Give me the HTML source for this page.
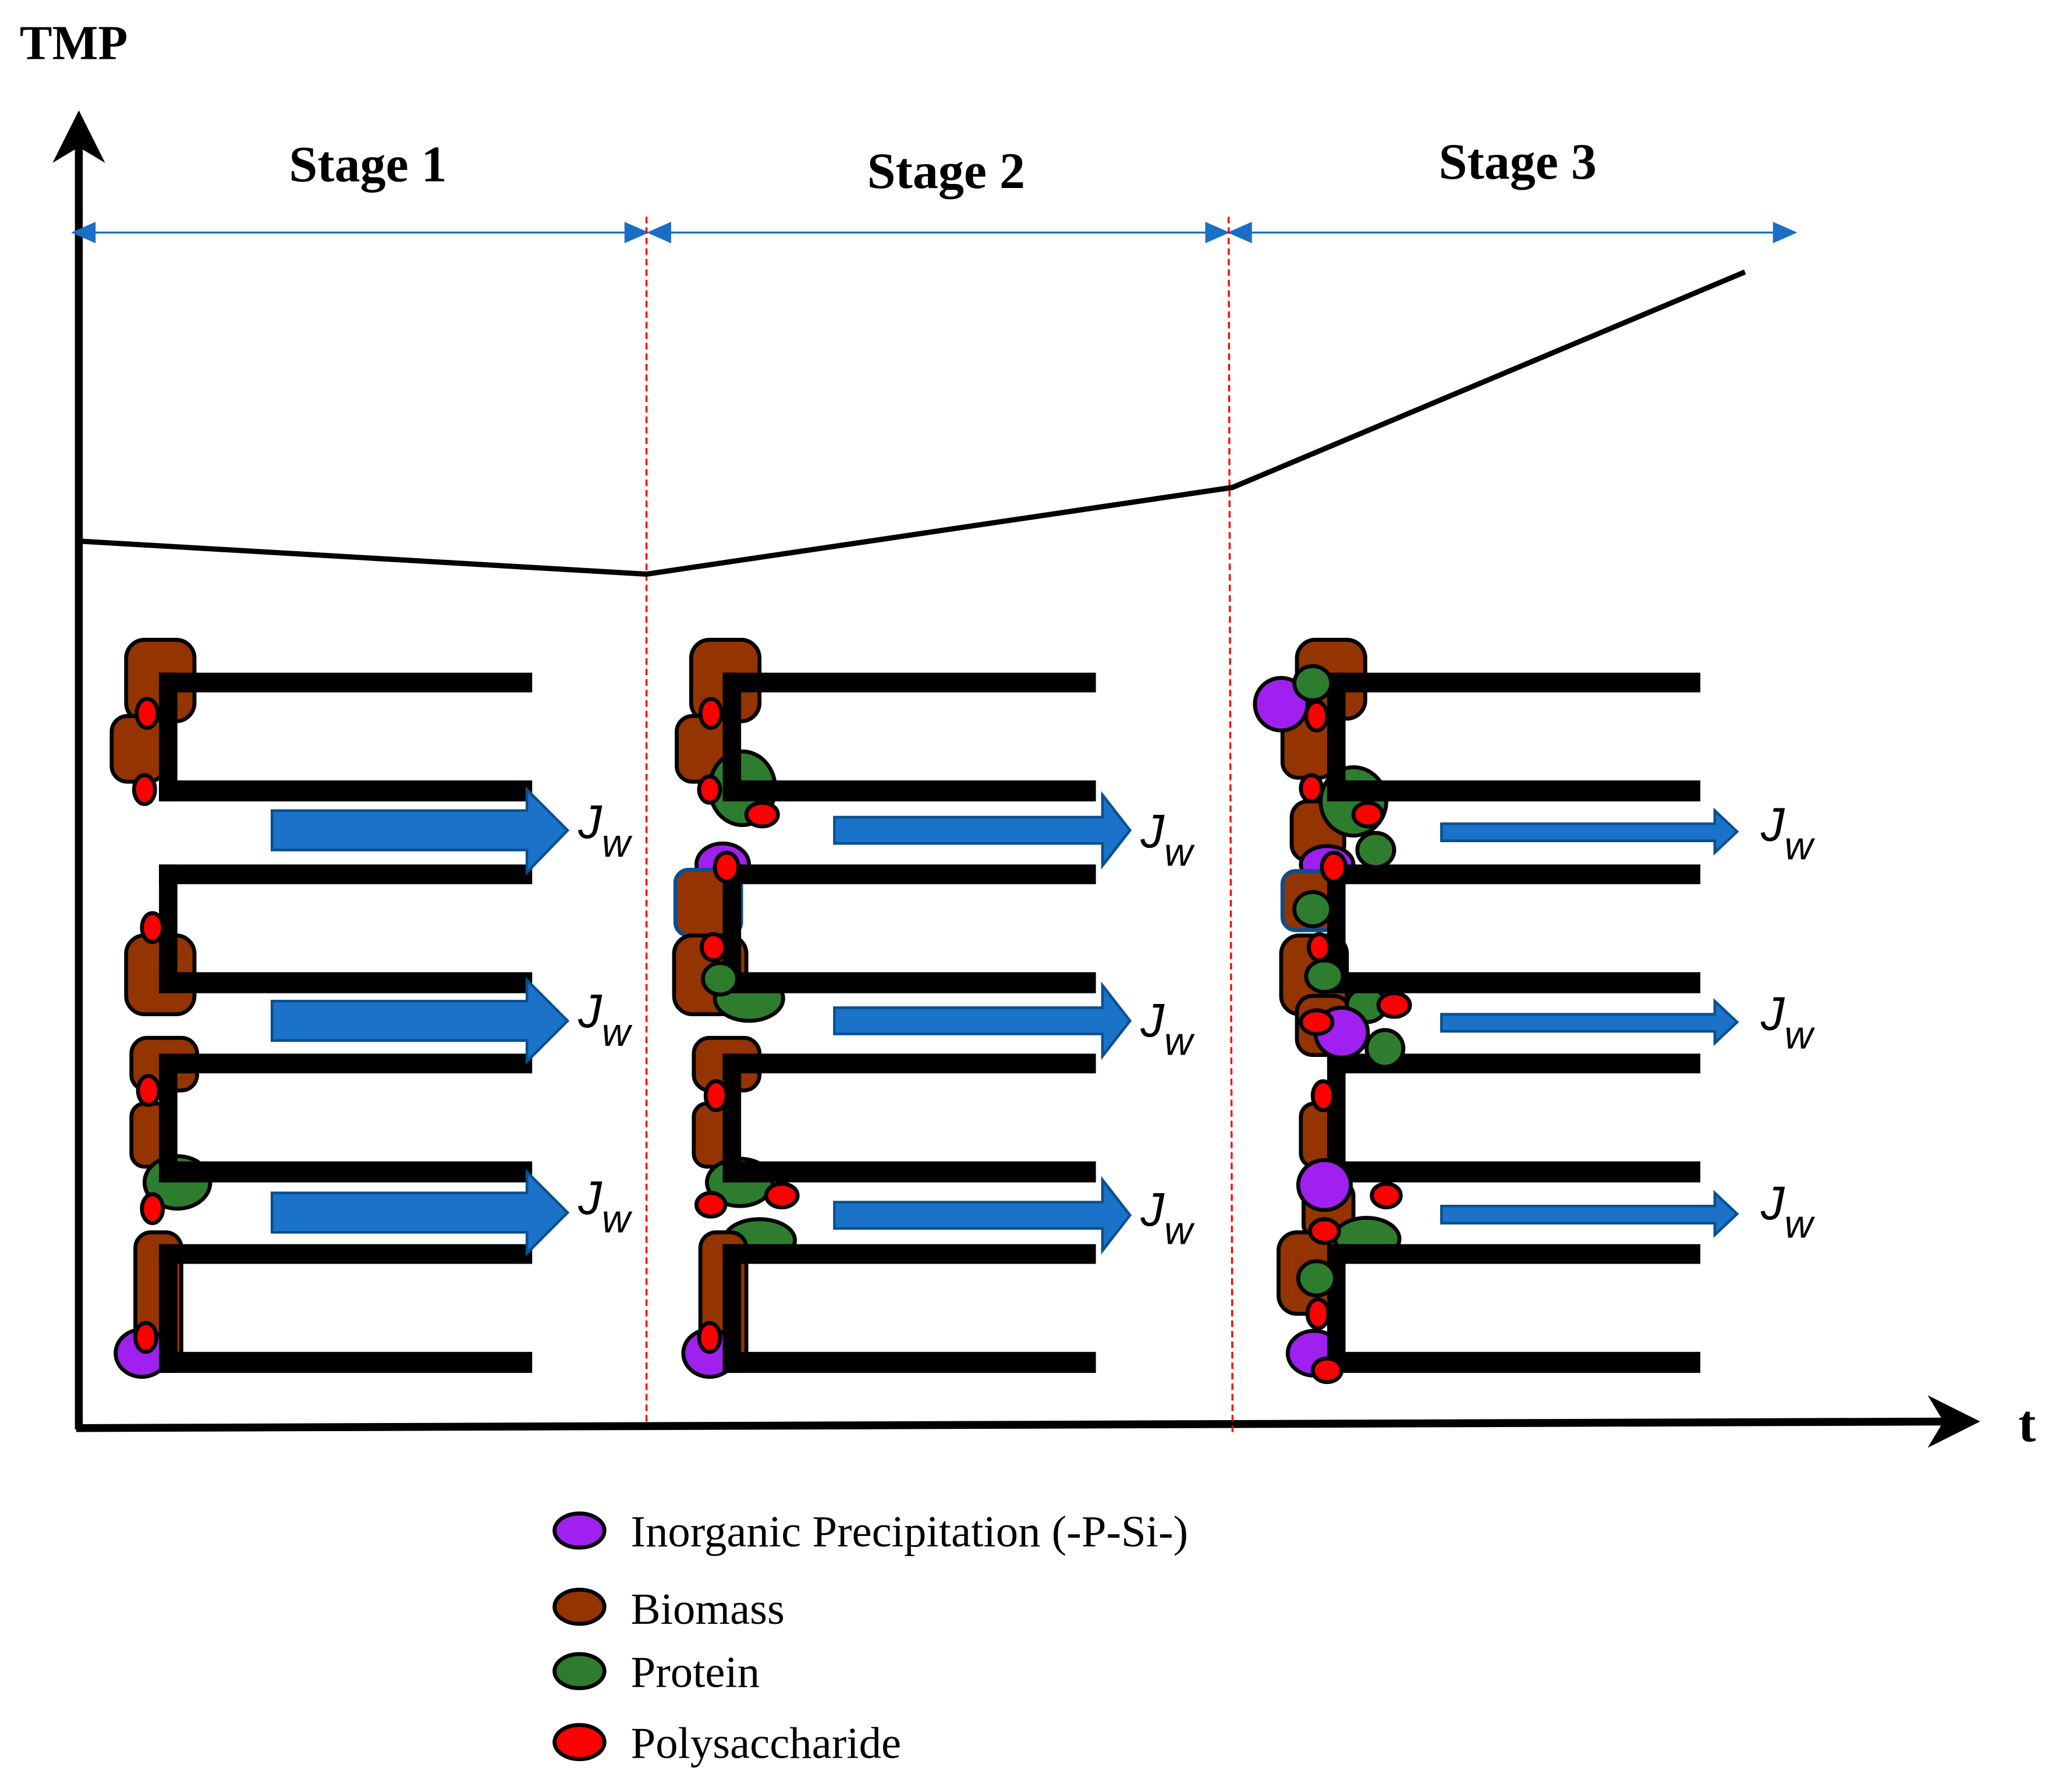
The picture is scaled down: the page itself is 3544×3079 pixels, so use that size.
<!DOCTYPE html>
<html><head><meta charset="utf-8"><style>html,body{margin:0;padding:0;background:#fff}svg{display:block}</style></head>
<body>
<svg width="3544" height="3079" viewBox="0 0 1570 1364" xmlns="http://www.w3.org/2000/svg">
<defs>
<g id="mem1"><rect x="0" y="0" width="284" height="15"/><rect x="0" y="0" width="14" height="98"/><rect x="0" y="82" width="284" height="16"/></g>
<g id="mem3"><use href="#mem1" y="0"/><use href="#mem1" y="146"/><use href="#mem1" y="290"/><use href="#mem1" y="435"/></g>
</defs>
<rect width="1570" height="1364" fill="#fff"/>
<text x="15" y="45" font-family="Liberation Serif, serif" font-weight="bold" font-size="37">TMP</text>
<text x="1536" y="1097" font-family="Liberation Serif, serif" font-weight="bold" font-size="40">t</text>
<!-- axes -->
<line x1="60" y1="100" x2="60" y2="1088" stroke="#000" stroke-width="6"/>
<polygon points="60,84 40,124 60,112 80,124" fill="#000"/>
<line x1="58" y1="1087" x2="1490" y2="1082" stroke="#000" stroke-width="6"/>
<polygon points="1507,1082 1467,1062 1479,1082 1467,1102" fill="#000"/>
<text x="280" y="138" text-anchor="middle" font-family="Liberation Serif, serif" font-weight="bold" font-size="39">Stage 1</text>
<text x="720" y="143" text-anchor="middle" font-family="Liberation Serif, serif" font-weight="bold" font-size="39">Stage 2</text>
<text x="1155" y="136" text-anchor="middle" font-family="Liberation Serif, serif" font-weight="bold" font-size="39">Stage 3</text>
<!-- stage double arrows -->
<g stroke="#1a6fc4" stroke-width="1.5" fill="#1a6fc4">
<line x1="62" y1="177" x2="488" y2="177"/><polygon points="56,177 72,170 72,184"/><polygon points="492,177 476,170 476,184"/>
<line x1="499" y1="177" x2="929" y2="177"/><polygon points="494,177 510,170 510,184"/><polygon points="934,177 918,170 918,184"/>
<line x1="941" y1="177" x2="1361" y2="177"/><polygon points="936,177 952,170 952,184"/><polygon points="1366,177 1350,170 1350,184"/>
</g>
<g stroke="#ff0000" stroke-width="1.5" stroke-dasharray="5,3">
<line x1="492" y1="165" x2="492" y2="1085"/><line x1="935" y1="165" x2="938" y2="1090"/>
</g>
<polyline points="62,412 492,437 938,371 1328,207" fill="none" stroke="#000" stroke-width="4"/>

<!-- ===== Stage 1 blobs ===== -->
<g stroke="#000" stroke-width="3">
<rect x="96" y="487" width="52" height="62" rx="14" fill="#943400"/>
<rect x="85" y="545" width="40" height="50" rx="12" fill="#943400"/>
<rect x="96" y="712" width="52" height="60" rx="14" fill="#943400"/>
<rect x="100" y="790" width="50" height="40" rx="12" fill="#943400"/>
<rect x="100" y="840" width="30" height="48" rx="10" fill="#943400"/>
<ellipse cx="135" cy="900" rx="25" ry="20" fill="#2e7d2e"/>
<rect x="103" y="938" width="35" height="105" rx="12" fill="#943400"/>
<ellipse cx="108" cy="1030" rx="20" ry="18" fill="#a020f0"/>
</g>
<use href="#mem3" x="121" y="512" fill="#000"/>
<g stroke="#000" stroke-width="3" fill="#ff0000">
<ellipse cx="112" cy="543" rx="8" ry="11"/><ellipse cx="110" cy="601" rx="8" ry="11"/>
<ellipse cx="116" cy="706" rx="8" ry="11"/><ellipse cx="113" cy="830" rx="8" ry="11"/>
<ellipse cx="116" cy="920" rx="8" ry="11"/><ellipse cx="111" cy="1018" rx="8" ry="11"/>
</g>

<!-- ===== Stage 2 blobs ===== -->
<g stroke="#000" stroke-width="3">
<rect x="526" y="487" width="52" height="62" rx="14" fill="#943400"/>
<rect x="515" y="545" width="40" height="50" rx="12" fill="#943400"/>
<ellipse cx="565" cy="600" rx="25" ry="28" fill="#2e7d2e"/>
<ellipse cx="550" cy="658" rx="20" ry="16" fill="#a020f0"/>
<rect x="514" y="662" width="50" height="50" rx="10" fill="#943400" stroke="#0a4f8f"/>
<rect x="513" y="712" width="55" height="60" rx="14" fill="#943400"/>
<ellipse cx="570" cy="760" rx="26" ry="17" fill="#2e7d2e"/>
<rect x="528" y="790" width="50" height="40" rx="12" fill="#943400"/>
<rect x="528" y="840" width="30" height="48" rx="10" fill="#943400"/>
<ellipse cx="563" cy="900" rx="25" ry="18" fill="#2e7d2e"/>
<ellipse cx="578" cy="944" rx="27" ry="16" fill="#2e7d2e"/>
<rect x="533" y="938" width="35" height="105" rx="12" fill="#943400"/>
<ellipse cx="540" cy="1030" rx="20" ry="18" fill="#a020f0"/>
</g>
<use href="#mem3" x="550" y="512" fill="#000"/>
<g stroke="#000" stroke-width="3">
<ellipse cx="548" cy="745" rx="13" ry="12" fill="#2e7d2e"/>
</g>
<g stroke="#000" stroke-width="3" fill="#ff0000">
<ellipse cx="541" cy="543" rx="8" ry="11"/><ellipse cx="540" cy="601" rx="8" ry="10"/>
<ellipse cx="580" cy="620" rx="12" ry="9"/><ellipse cx="553" cy="660" rx="9" ry="11"/>
<ellipse cx="543" cy="721" rx="9" ry="10"/><ellipse cx="545" cy="834" rx="8" ry="11"/>
<ellipse cx="541" cy="917" rx="11" ry="9"/><ellipse cx="595" cy="910" rx="12" ry="9"/>
<ellipse cx="540" cy="1018" rx="8" ry="11"/>
</g>

<!-- ===== Stage 3 blobs ===== -->
<g stroke="#000" stroke-width="3">
<rect x="987" y="487" width="52" height="60" rx="14" fill="#943400"/>
<rect x="976" y="540" width="40" height="52" rx="12" fill="#943400"/>
<rect x="983" y="610" width="40" height="45" rx="12" fill="#943400"/>
<ellipse cx="1030" cy="610" rx="25" ry="26" fill="#2e7d2e"/>
<ellipse cx="1010" cy="658" rx="20" ry="14" fill="#a020f0"/>
<rect x="976" y="663" width="45" height="45" rx="10" fill="#943400" stroke="#0a4f8f"/>
<rect x="975" y="712" width="50" height="60" rx="14" fill="#943400"/>
<rect x="987" y="758" width="40" height="45" rx="12" fill="#943400"/>
<ellipse cx="1040" cy="765" rx="15" ry="13" fill="#2e7d2e"/>
<rect x="990" y="840" width="30" height="48" rx="10" fill="#943400"/>
<rect x="992" y="900" width="38" height="42" rx="10" fill="#943400"/>
<ellipse cx="1040" cy="943" rx="25" ry="16" fill="#2e7d2e"/>
<rect x="973" y="938" width="45" height="62" rx="14" fill="#943400"/>
<ellipse cx="1000" cy="1030" rx="20" ry="17" fill="#a020f0"/>
<ellipse cx="975" cy="536" rx="20" ry="20" fill="#a020f0"/>
</g>
<use href="#mem3" x="1010" y="512" fill="#000"/>
<g stroke="#000" stroke-width="3">
<ellipse cx="999" cy="520" rx="14" ry="13" fill="#2e7d2e"/>
<ellipse cx="1047" cy="647" rx="14" ry="13" fill="#2e7d2e"/>
<ellipse cx="999" cy="692" rx="14" ry="13" fill="#2e7d2e"/>
<ellipse cx="1008" cy="743" rx="14" ry="12" fill="#2e7d2e"/>
<ellipse cx="1021" cy="786" rx="20" ry="19" fill="#a020f0"/>
<ellipse cx="1054" cy="798" rx="14" ry="14" fill="#2e7d2e"/>
<ellipse cx="1008" cy="902" rx="20" ry="19" fill="#a020f0"/>
<ellipse cx="1002" cy="973" rx="14" ry="13" fill="#2e7d2e"/>
</g>
<g stroke="#000" stroke-width="3" fill="#ff0000">
<ellipse cx="1002" cy="545" rx="8" ry="11"/><ellipse cx="998" cy="600" rx="8" ry="10"/>
<ellipse cx="1041" cy="620" rx="11" ry="9"/><ellipse cx="1015" cy="660" rx="9" ry="11"/>
<ellipse cx="1004" cy="721" rx="8" ry="10"/><ellipse cx="1061" cy="765" rx="12" ry="9"/>
<ellipse cx="1002" cy="778" rx="12" ry="9"/><ellipse cx="1007" cy="834" rx="8" ry="11"/>
<ellipse cx="1055" cy="910" rx="11" ry="9"/><ellipse cx="1008" cy="937" rx="11" ry="9"/>
<ellipse cx="1003" cy="1000" rx="8" ry="11"/><ellipse cx="1010" cy="1043" rx="11" ry="9"/>
</g>

<!-- flux arrows -->
<g fill="#1a73c8" stroke="#0a4f8f" stroke-width="2">
<polygon points="207,617 401,617 401,601 432,632 401,664 401,647 207,647"/>
<polygon points="207,762 401,762 401,746 432,777 401,808 401,792 207,792"/>
<polygon points="207,908 401,908 401,892 432,923 401,954 401,938 207,938"/>
<polygon points="635,622 839,622 839,605 860,632 839,659 839,642 635,642"/>
<polygon points="635,767 839,767 839,750 860,777 839,804 839,787 635,787"/>
<polygon points="635,915 839,915 839,898 860,925 839,952 839,935 635,935"/>
<polygon points="1097,627 1305,627 1305,617 1322,633 1305,649 1305,640 1097,640"/>
<polygon points="1097,772 1305,772 1305,762 1322,778 1305,794 1305,785 1097,785"/>
<polygon points="1097,918 1305,918 1305,908 1322,924 1305,940 1305,931 1097,931"/>
</g>
<g font-family="Liberation Sans, sans-serif" font-style="italic" font-size="36">
<text x="440" y="638">J<tspan font-size="30" dy="14">w</tspan></text>
<text x="440" y="782">J<tspan font-size="30" dy="14">w</tspan></text>
<text x="440" y="924">J<tspan font-size="30" dy="14">w</tspan></text>
<text x="868" y="645">J<tspan font-size="30" dy="14">w</tspan></text>
<text x="868" y="789">J<tspan font-size="30" dy="14">w</tspan></text>
<text x="868" y="933">J<tspan font-size="30" dy="14">w</tspan></text>
<text x="1340" y="640">J<tspan font-size="30" dy="14">w</tspan></text>
<text x="1340" y="784">J<tspan font-size="30" dy="14">w</tspan></text>
<text x="1340" y="928">J<tspan font-size="30" dy="14">w</tspan></text>
</g>

<!-- legend -->
<g stroke="#000" stroke-width="3">
<ellipse cx="441" cy="1165" rx="19" ry="13" fill="#a020f0"/>
<ellipse cx="441" cy="1223" rx="19" ry="13" fill="#943400"/>
<ellipse cx="441" cy="1272" rx="19" ry="13" fill="#2e7d2e"/>
<ellipse cx="441" cy="1326" rx="19" ry="13" fill="#ff0000"/>
</g>
<g font-family="Liberation Serif, serif" font-size="34">
<text x="480" y="1177">Inorganic Precipitation (-P-Si-)</text>
<text x="480" y="1236">Biomass</text>
<text x="480" y="1284">Protein</text>
<text x="480" y="1338">Polysaccharide</text>
</g>
</svg>
</body></html>
